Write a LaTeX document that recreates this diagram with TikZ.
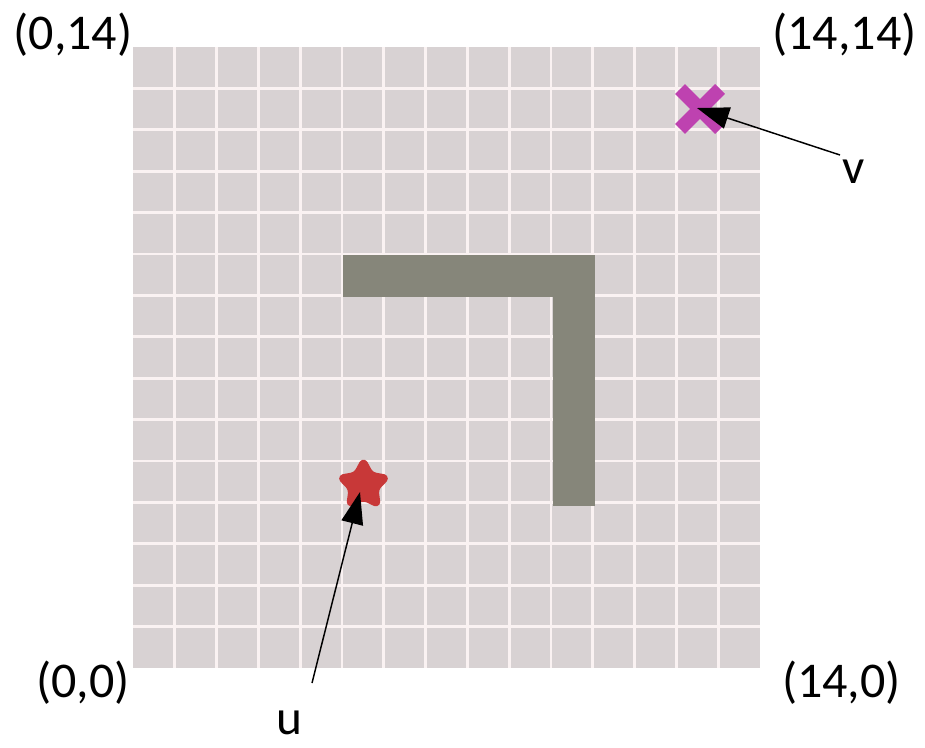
\documentclass[tikz,border=0pt]{standalone}
\usepackage{fontspec}
\setmainfont{Carlito}
\usetikzlibrary{arrows.meta,shapes.geometric}
\definecolor{gridbg}{RGB}{216,210,211}
\definecolor{gridline}{RGB}{250,242,242}
\definecolor{wallgray}{RGB}{134,134,122}
\definecolor{starred}{RGB}{200,56,56}
\definecolor{crossmag}{RGB}{190,66,176}
\begin{document}
\begin{tikzpicture}[x=0.75pt,y=-0.75pt,
  lbl/.style={font=\fontsize{37.5}{44}\selectfont, inner sep=0pt, anchor=base},
  letter/.style={font=\fontsize{37}{44}\selectfont, inner sep=0pt, anchor=base},
  gridl/.style={draw=gridline, line width=2.2pt},
  wallfill/.style={fill=wallgray},
  pointer/.style={draw=black, line width=1.1pt, -{Triangle[length=24pt,width=16.5pt]}},
  crossarm/.style={draw=crossmag, line width=10.5pt, line cap=butt}]
\useasboundingbox (0,0) rectangle (925,747);
% board
\fill[gridbg] (133,47) rectangle (760,668);
\foreach \k in {1,...,14} {
  \draw[gridl] ({133+\k*41.8},47) -- ({133+\k*41.8},668);
  \draw[gridl] (133,{47+\k*41.4}) -- (760,{47+\k*41.4});
}
% wall
\fill[wallfill] (343,255) rectangle (595,297);
\fill[wallfill] (553,255) rectangle (595,506);
% goal cross
\draw[crossarm] (680,89) -- (720,129);
\draw[crossarm] (720,89) -- (680,129);
\coordinate (vtip) at (697,108);
% start star
\node[star, star points=5, star point ratio=1.9, minimum size=38pt, inner sep=0pt,
      fill=starred, draw=starred, line width=3.5pt, line join=round, rounded corners=3pt]
      (ustar) at (363.5,485) {};
\coordinate (utip) at (360,492);
% corner labels
\node[lbl] (tl) at (73,49) {(0,14)};
\node[lbl] (tr) at (844.5,49) {(14,14)};
\node[lbl] (bl) at (83,697) {(0,0)};
\node[lbl] (br) at (841.5,697) {(14,0)};
% pointer labels
\node[letter] (vlab) at (854,183) {v};
\node[letter] (ulab) at (289,734) {u};
\coordinate (vtail) at (840,155);
\coordinate (utail) at (312,683);
\draw[pointer] (vtail) -- (vtip);
\draw[pointer] (utail) -- (utip);
\end{tikzpicture}
\end{document}
